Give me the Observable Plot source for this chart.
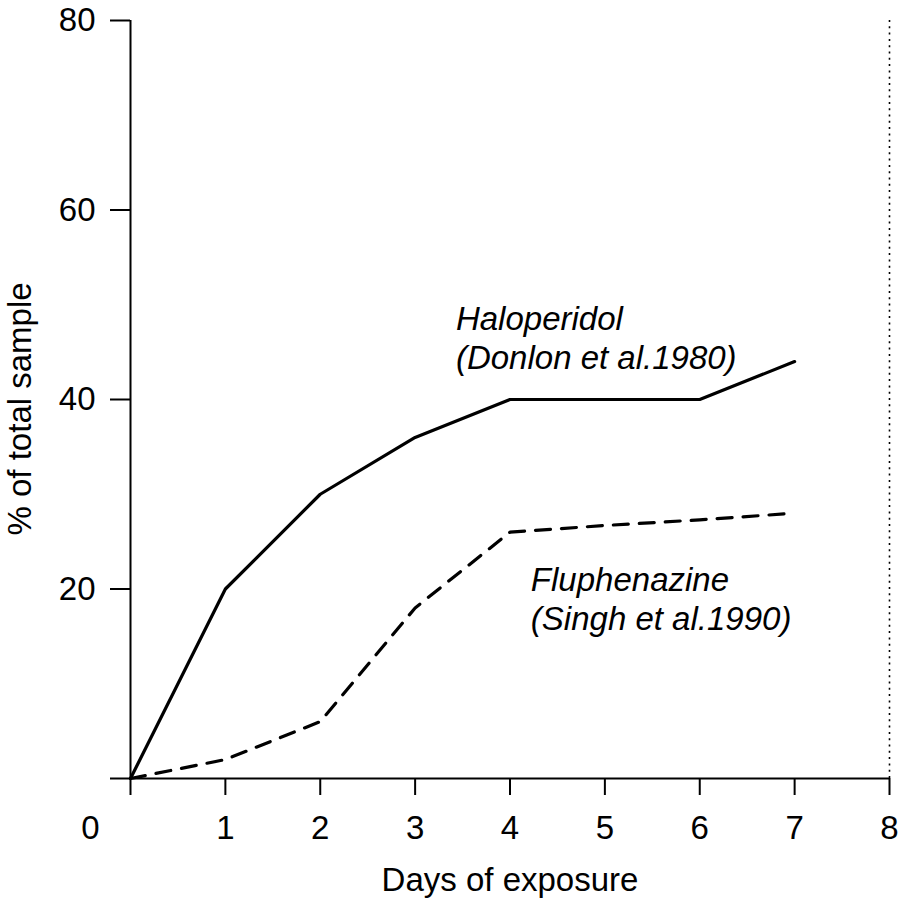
<!DOCTYPE html>
<html>
<head>
<meta charset="utf-8">
<script src="https://cdn.jsdelivr.net/npm/d3@7"></script>
<script src="https://cdn.jsdelivr.net/npm/@observablehq/plot@0.6"></script>
<style>
  html, body { margin: 0; padding: 0; background: #fff; }
</style>
</head>
<body>
<div id="chart"></div>
<script>
// ---- data ----
const days = [0, 1, 2, 3, 4, 5, 6, 7];
const haloperidol = [0, 20, 30, 36, 40, 40, 40, 44];
const fluphenazine = [0, 2, 6, 18, 26, 26.7, 27.3, 28];
const xTicks = [0, 1, 2, 3, 4, 5, 6, 7, 8];
const yTicks = [0, 20, 40, 60, 80];
const seriesLabels = ["Haloperidol\n(Donlon et al.1980)", "Fluphenazine\n(Singh et al.1990)"];
const xTitle = "Days of exposure";
const yTitle = "% of total sample";

const haloData = days.map((d, i) => ({day: d, value: haloperidol[i]}));
const fluData = days.map((d, i) => ({day: d, value: fluphenazine[i]}));
const annotations = [
  {text: seriesLabels[0], x: 3.43, y: 46.6},
  {text: seriesLabels[1], x: 4.22, y: 19.0}
];

const FS = 33;

const chart = Plot.plot({
  width: 898,
  height: 899,
  marginTop: 20,
  marginBottom: 121,
  marginLeft: 130,
  marginRight: 9,
  style: {fontFamily: "'Liberation Sans', Arial, Helvetica, sans-serif", fontSize: FS + "px", color: "#000", background: "#fff"},
  x: {domain: [0, 8]},
  y: {domain: [0, 80]},
  marks: [
    // dotted right border at x = 8
    Plot.ruleX([8], {y1: 0, y2: 80, stroke: "#000", strokeWidth: 1.6, strokeDasharray: "2,4.3"}),
    // axis lines
    Plot.ruleX([0], {y1: 0, y2: 80, stroke: "#000", strokeWidth: 2}),
    Plot.ruleY([0], {x1: 0, x2: 8, stroke: "#000", strokeWidth: 2}),
    Plot.axisX(xTicks, {
      tickSize: 17, tickPadding: 20, strokeWidth: 2, stroke: "#000",
      tickFormat: d => d === 0 ? "" : String(d), label: null, fill: "#000"
    }),
    Plot.axisY(yTicks, {
      tickSize: 20, tickPadding: 15, strokeWidth: 2, stroke: "#000",
      tickFormat: d => d === 0 ? "" : String(d), label: null, fill: "#000"
    }),
    // corner "0" label
    Plot.text([xTicks[0]], {x: d => d, y: 0, text: d => String(d), dx: -40, dy: 50, fontSize: FS, fill: "#000"}),
    // series
    Plot.line(haloData, {x: "day", y: "value", stroke: "#000", strokeWidth: 3.2, strokeLinejoin: "miter"}),
    Plot.line(fluData, {x: "day", y: "value", stroke: "#000", strokeWidth: 3.2, strokeDasharray: "15,11"}),
    // annotations
    Plot.text(annotations, {x: "x", y: "y", text: "text", textAnchor: "start", lineAnchor: "middle",
      lineHeight: 1.18, fontSize: FS, fontStyle: "italic", fill: "#000"}),
    // axis titles
    Plot.text([xTitle], {frameAnchor: "bottom", dy: 102, lineAnchor: "middle", fontSize: FS, fill: "#000"}),
    Plot.text([yTitle], {frameAnchor: "left", dx: -110, dy: 136, rotate: -90, lineAnchor: "middle", fontSize: FS, fill: "#000"})
  ]
});
document.getElementById("chart").appendChild(chart);
</script>
</body>
</html>
